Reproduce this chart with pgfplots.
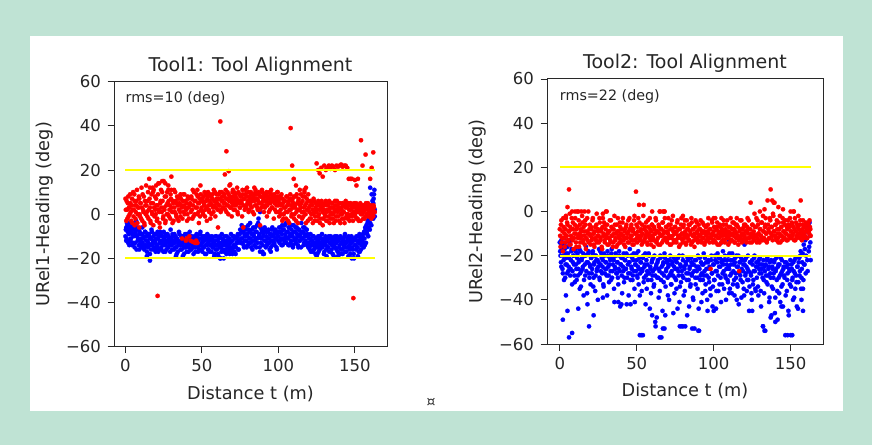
\documentclass[border=0pt]{standalone}
\usepackage{pgfplots}
\pgfplotsset{compat=1.18}
\usepackage{pgfplotstable}
\usepackage{fontspec}
\setmainfont{DejaVu Sans}
\definecolor{mint}{RGB}{191,227,212}
\definecolor{yel}{RGB}{255,255,0}
\definecolor{axgray}{RGB}{40,40,40}
\pgfplotstableread{
x r1 b1 r2 b2
0 7 -10 -8 -14
0.5 -3 -6 -16 -20
1 2 -12 -4 -25
1.5 5 -8 -12 -17
2 -1 -4 -18 -28
2.5 3 -14 -7 -22
3 9 -7 -10 -15
3.5 1 -11 -14 -30
4 4 -5 -2 -19
4.5 -4 -9 -11 -24
5 10 -13 -6 -16
5.5 2 -6 -13 -27
6 6 -15 -9 -21
6.5 -2 -8 -1 -13
7 4 -3 -15 -26
7.5 11 -10 -8 -18
8 0 -12 -12 -33
8.5 3 -7 -5 -23
9 7 -16 -17 -20
9.5 -1 -9 -10 -29
10 5 -13 -3 -17
10.5 12 -11 -14 -24
11 -3 -6 -8 -31
11.5 2 -14 0 -19
12 8 -10 -11 -26
12.5 -5 -15 -16 -22
13 4 -8 -6 -35
13.5 13 -12 -12 -18
14 1 -17 -9 -27
14.5 6 -9 -2 -21
15 -2 -13 -14 -25
15.5 16 -10 -7 -38
16 3 -18 -11 -20
16.5 -4 -11 -4 -29
17 9 -7 -17 -16
17.5 0 -14 -9 -23
18 5 -12 -13 -42
18.5 11 -16 0 -19
19 -1 -9 -10 -28
19.5 2 -13 -6 -24
20 7 -11 -15 -33
20.5 -3 -15 -8 -21
21 4 -8 -12 -26
21.5 14 -17 -3 -18
22 1 -10 -10 -30
22.5 -6 -13 -16 -23
23 6 -9 -7 -36
23.5 3 -16 -13 -20
24 10 -12 -1 -27
24.5 -2 -14 -11 -22
25 15 -8 -9 -25
25.5 2 -12 -14 -17
26 -4 -17 -5 -31
26.5 8 -10 -12 -24
27 0 -13 -8 -19
27.5 5 -9 -17 -28
28 13 -15 -3 -22
28.5 -1 -11 -10 -34
29 4 -14 -13 -20
29.5 9 -7 -6 -26
30 17 -12 -11 -23
30.5 1 -16 0 -29
31 6 -10 -15 -18
31.5 -3 -13 -9 -25
32 3 -9 -12 -32
32.5 10 -15 -4 -21
33 0 -11 -14 -27
33.5 5 -18 -7 -19
34 -2 -12 -11 -30
34.5 7 -14 -16 -24
35 2 -8 -8 -22
35.5 8 -13 -2 -41
36 -1 -16 -13 -26
36.5 4 -10 -10 -20
37 -11 -14 -6 -28
37.5 6 -19 -15 -23
38 1 -11 -9 -33
38.5 9 -15 -12 -18
39 3 -9 -5 -27
39.5 -12 -13 -14 -24
40 5 -17 -8 -21
40.5 0 -12 -11 -37
41 7 -10 -3 -25
41.5 -2 -15 -13 -19
42 4 -8 -9 -30
42.5 -12 -13 -16 -22
43 8 -16 -7 -26
43.5 2 -11 -12 -42
44 11 -14 -10 -20
44.5 -1 -18 -4 -28
45 6 -10 -14 -23
45.5 -13 -13 -8 -17
46 3 -15 -11 -31
46.5 9 -9 -6 -25
47 0 -12 -13 -21
47.5 5 -17 -9 -29
48 -4 -11 -15 -19
48.5 7 -14 -2 -35
49 13 -8 -10 -24
49.5 2 -16 9 -27
50 6 -13 -12 -22
50.5 1 -10 -7 -30
51 8 -15 -3 -18
51.5 4 -12 3 -26
52 -1 -18 -13 -38
52.5 9 -11 -9 -23
53 3 -14 -11 -56
53.5 7 -9 -6 -27
54 10 -16 -14 -21
54.5 2 -12 3 -32
55 6 -17 -8 -25
55.5 -2 -11 -12 -19
56 8 -14 -5 -29
56.5 4 -10 -10 -35
57 9 -15 -15 -24
57.5 1 -13 -7 -28
58 6 -19 -11 -20
58.5 10 -12 -3 -44
59 3 -16 -13 -26
59.5 7 -10 -9 -31
60 5 -14 -6 -22
60.5 -6 -18 -12 -27
61 9 -11 -16 -34
61.5 4 -15 -8 -20
62 7 -20 -10 -29
62.5 2 -13 -4 -25
63 10 -9 -13 -48
63.5 6 -16 -9 -23
64 3 -12 -15 -30
64.5 8 -17 -7 -26
65 5 -10 0 -36
65.5 11 -14 -11 -21
66 1 -18 -8 -57
66.5 7 -12 -14 -28
67 4 -15 -5 -24
67.5 9 -11 -10 -32
68 13 -16 0 -19
68.5 3 -13 -12 -47
69 6 -9 -7 -27
69.5 -1 -17 -13 -23
70 8 -12 -9 -30
70.5 4 -15 -3 -25
71 10 -10 -11 -40
71.5 2 -14 -15 -22
72 7 -18 -6 -28
72.5 5 -11 -12 -33
73 12 -13 -8 -24
73.5 0 -9 -2 -29
74 6 -16 -14 -21
74.5 9 -12 -10 -37
75 3 -7 -7 -26
75.5 8 -11 -13 -31
76 5 -5 -9 -23
76.5 11 -13 -4 -44
77 -6 -8 -11 -27
77.5 7 -15 -16 -20
78 2 -10 -8 -34
78.5 9 -6 -12 -25
79 4 -12 -3 -52
79.5 12 -9 -10 -29
80 6 -14 -14 -22
80.5 1 -7 -6 -38
81 8 -11 -11 -26
81.5 5 -4 -9 -52
82 10 -13 -15 -24
82.5 3 -9 -4 -31
83 7 -16 -12 -21
83.5 9 -6 -8 -28
84 0 -10 -13 -43
84.5 6 -12 -6 -25
85 11 -8 -10 -33
85.5 4 -15 -3 -23
86 7 -5 -14 -28
86.5 2 -11 -8 -39
87 9 -2 -11 -24
87.5 5 -9 -16 -53
88 -5 1 -7 -30
88.5 8 -13 -12 -22
89 3 -7 -5 -27
89.5 10 -17 -10 -35
90 6 -10 -13 -25
90.5 1 -18 -8 -54
91 8 -6 -11 -21
91.5 4 -12 -4 -29
92 9 -8 -14 -41
92.5 -1 -14 -9 -24
93 7 -11 -12 -31
93.5 5 -7 -6 -19
94 10 -13 -15 -27
94.5 2 -9 -10 -36
95 6 -15 -7 -23
95.5 9 -10 -13 -29
96 3 -6 -9 -45
96.5 7 -12 -3 -22
97 -2 -9 -12 -32
97.5 5 -14 -8 -26
98 8 -7 -26 -38
98.5 1 -11 -11 -20
99 6 -16 -5 -28
99.5 10 -8 -14 -34
100 4 -10 -9 -24
100.5 -1 -6 -13 -31
101 7 -12 -3 -22
101.5 2 -8 -11 -44
102 9 -14 -7 -27
102.5 -3 -5 -15 -19
103 5 -11 -9 -36
103.5 0 -7 -12 -25
104 6 -13 -6 -21
104.5 3 -9 -10 -30
105 -2 -4 -14 -23
105.5 8 -11 -8 -33
106 1 -8 -11 -18
106.5 5 -14 -4 -27
107 -4 -6 -13 -22
107.5 7 -10 -9 -29
108 2 -13 -6 -40
108.5 -1 -7 -12 -24
109 6 -9 -10 -31
109.5 3 -15 -15 -20
110 8 -5 -7 -26
110.5 0 -11 -11 -35
111 4 -8 -3 -22
111.5 -3 -13 -13 -28
112 9 -6 -8 -19
112.5 2 -10 -10 -33
113 6 -15 -5 -24
113.5 -1 -7 -14 -38
114 11 -12 -9 -21
114.5 3 -9 -12 -30
115 5 -4 -6 -25
115.5 -2 -11 -11 -34
116 8 -8 -15 -20
116.5 1 -14 -27 -28
117 11 -6 -8 -23
117.5 4 -10 -12 -31
118 -4 -13 -4 -39
118.5 7 -7 -10 -22
119 2 -9 -13 -27
119.5 9 -15 -7 -35
120 3 -11 -11 -24
120.5 -2 -16 -6 -29
121 6 -9 -13 -21
121.5 0 -14 -9 -36
122 4 -12 -3 -26
122.5 -4 -17 -12 -31
123 7 -10 -8 -45
123.5 1 -13 -14 -23
124 -1 -15 4 -28
124.5 5 -11 -10 -37
125 2 -14 -6 -22
125.5 -3 -18 -12 -33
126 6 -10 -9 -27
126.5 0 -13 -1 -20
127 4 -16 -11 -35
127.5 -2 -11 -7 -25
128 3 -15 -14 -30
128.5 5 -9 -4 -23
129 -5 -14 -10 -38
129.5 2 -12 -13 -26
130 4 -17 -8 -21
130.5 -1 -11 -11 -36
131 6 -14 -5 -28
131.5 1 -19 -12 -24
132 -3 -12 -2 -52
132.5 5 -15 -9 -31
133 2 -10 -13 -25
133.5 -4 -13 -6 -54
134 3 -17 -10 -29
134.5 0 -11 -14 -22
135 5 -14 5 -33
135.5 -2 -18 -8 -26
136 3 -12 -12 -41
136.5 1 -15 -3 -23
137 6 -10 10 -30
137.5 -3 -13 -7 -47
138 2 -16 -11 -25
138.5 4 -12 -1 -35
139 -1 -19 -9 -28
139.5 5 -11 4 -22
140 2 -14 -6 -39
140.5 -4 -10 -12 -26
141 3 -16 -4 -31
141.5 0 -13 -10 -49
142 5 -18 -14 -24
142.5 1 -11 -8 -37
143 -2 -15 -2 -29
143.5 4 -9 -11 -21
144 6 -13 -7 -34
144.5 -1 -17 -13 -27
145 3 -12 -5 -43
145.5 0 -15 -9 -25
146 5 -10 -12 -30
146.5 -3 -14 -4 -56
147 2 -18 -10 -23
147.5 4 -11 -7 -36
148 -1 -13 -13 -28
148.5 3 -16 -6 -45
149 1 -12 -11 -26
149.5 5 -20 -3 -33
150 0 -11 -9 -56
150.5 3 -14 -12 -24
151 -2 -10 -6 -31
151.5 4 -15 -10 -40
152 1 -12 0 -27
152.5 -3 -17 -8 -22
153 2 -9 -13 -35
153.5 5 -13 -5 -29
154 0 -16 -11 -43
154.5 3 -11 -7 -25
155 1 -10 -2 -32
155.5 -2 -13 -10 -21
156 4 -8 -6 -27
156.5 2 -14 5 -18
157 -1 -7 -11 -30
157.5 3 -5 -8 -23
158 0 -9 -4 -35
158.5 5 -3 -12 -15
159 2 -6 -7 -24
159.5 -1 -1 -9 -13
160 1 -4 -6 -20
160.5 4 3 -12 -9
161 0 0 -8 -27
161.5 2 6 -5 -6
162 -1 -2 -10 -16
162.5 3 9 -7 -11
163 1 2 -11 -22
}\dataA

\pgfplotstableread{
x r1 b1 r2 b2
0.25 2 -7 -11 -18
0.75 6 -11 -6 -23
1.25 -2 -5 -14 -15
1.75 8 -13 -9 -26
2.25 3 -9 -3 -20
2.75 0 -6 -12 -31
3.25 5 -12 -16 -17
3.75 -3 -8 -8 -24
4.25 7 -14 -11 -21
4.75 2 -4 -5 -28
5.25 -1 -10 -13 -19
5.75 9 -7 -9 -25
6.25 4 -13 -15 -14
6.75 1 -9 -7 -29
7.25 6 -16 -11 -22
7.75 -4 -6 -3 -17
8.25 3 -11 -13 -27
8.75 8 -14 -8 -20
9.25 0 -8 -12 -24
9.75 5 -12 -6 -32
10.25 -2 -15 -10 -18
10.75 3 -9 -16 -26
11.25 9 -13 -7 -21
11.75 1 -11 -12 -29
12.25 -4 -16 -4 -23
12.75 6 -8 -10 -17
13.25 0 -14 -14 -28
13.75 4 -10 -8 -34
14.25 -1 -12 -11 -22
14.75 10 -15 -5 -26
15.25 2 -9 -13 -19
15.75 7 -14 -9 -31
16.25 -3 -11 -15 -24
16.75 5 -16 -6 -20
17.25 1 -8 -12 -27
17.75 12 -13 -3 -37
18.25 -5 -10 -10 -23
18.75 3 -15 -14 -18
19.25 8 -12 -8 -30
19.75 0 -17 -11 -25
20.25 4 -9 -7 -21
20.75 -2 -14 -13 -28
21.25 9 -11 -4 -19
21.75 2 -16 -10 -34
22.25 -4 -12 -15 -24
22.75 5 -8 -9 -20
23.25 11 -15 -12 -29
23.75 1 -13 -6 -22
24.25 6 -10 -14 -26
24.75 -1 -17 -8 -40
25.25 3 -11 -11 -23
25.75 8 -14 -3 -30
26.25 -3 -9 -13 -18
26.75 4 -16 -9 -27
27.25 10 -12 -16 -21
27.75 0 -15 -7 -25
28.25 6 -10 -11 -33
28.75 2 -13 -5 -19
29.25 -2 -17 -14 -28
29.75 7 -11 -8 -23
30.25 3 -14 -12 -26
30.75 -4 -9 -6 -38
31.25 5 -12 -10 -20
31.75 11 -16 -15 -29
32.25 1 -13 -9 -24
32.75 6 -10 -13 -22
33.25 -1 -15 -4 -31
33.75 8 -11 -11 -17
34.25 4 -17 -8 -27
34.75 -3 -13 -14 -21
35.25 5 -9 -10 -35
35.75 1 -14 -6 -25
36.25 7 -12 -12 -19
36.75 3 -16 -16 -28
37.25 -2 -10 -9 -23
37.75 9 -13 -3 -30
38.25 4 -18 -11 -26
38.75 0 -11 -14 -20
39.25 6 -15 -7 -43
39.75 2 -12 -10 -24
40.25 -3 -9 -13 -29
40.75 8 -14 -5 -21
41.25 3 -17 -11 -27
41.75 -10 -11 -15 -32
42.25 5 -13 -8 -22
42.75 1 -16 -12 -26
43.25 7 -10 -6 -19
43.75 -2 -14 -10 -30
44.25 4 -12 -14 -24
44.75 10 -15 -9 -38
45.25 0 -11 -3 -23
45.75 6 -17 -12 -28
46.25 -12 -13 -7 -20
46.75 3 -10 -11 -26
47.25 8 -15 -15 -31
47.75 1 -12 -8 -22
48.25 5 -16 -4 -27
48.75 -1 -9 -13 -41
49.25 9 -14 -10 -24
49.75 3 -11 -6 -19
50.25 7 -17 -14 -29
50.75 0 -12 -9 -25
51.25 5 -15 -11 -33
51.75 10 -10 -5 -21
52.25 2 -14 -12 -28
52.75 6 -18 -8 -23
53.25 -3 -11 -15 -36
53.75 8 -13 -10 -26
54.25 4 -16 -2 -20
54.75 1 -10 -13 -30
55.25 9 -14 -7 -24
55.75 5 -12 -11 -42
56.25 0 -17 -9 -22
56.75 7 -11 -14 -27
57.25 3 -15 -4 -31
57.75 11 -13 -10 -19
58.25 4 -18 -12 -28
58.75 -1 -10 -8 -25
59.25 6 -14 -15 -37
59.75 9 -16 -6 -23
60.25 2 -12 -11 -29
60.75 7 -19 -13 -21
61.25 4 -13 -7 -33
61.75 10 -10 -10 -26
62.25 1 -15 -3 -52
62.75 6 -17 -14 -24
63.25 8 -11 -9 -30
63.75 3 -14 -12 -22
64.25 5 -20 -6 -39
64.75 9 -12 -10 -27
65.25 2 -16 -15 -20
65.75 7 -13 -8 -31
66.25 4 -10 -11 -25
66.75 10 -17 -5 -45
67.25 0 -14 -13 -23
67.75 6 -11 -9 -29
68.25 8 -18 -3 -21
68.75 3 -15 -12 -34
69.25 7 -12 -7 -26
69.75 5 -16 -14 -22
70.25 11 -10 -10 -38
70.75 2 -14 -6 -24
71.25 6 -17 -12 -29
71.75 9 -11 -8 -20
72.25 4 -15 -15 -33
72.75 7 -13 -4 -27
73.25 1 -10 -11 -23
73.75 10 -16 -9 -46
74.25 5 -12 -13 -25
74.75 3 -9 -7 -30
75.25 8 -13 -10 -22
75.75 6 -8 -14 -35
76.25 -1 -11 -5 -26
76.75 9 -6 -12 -21
77.25 4 -14 -8 -29
77.75 7 -9 -11 -41
78.25 11 -12 -15 -24
78.75 3 -7 -6 -32
79.25 8 -15 -10 -27
79.75 5 -10 -13 -20
80.25 10 -5 -7 -30
80.75 2 -13 -12 -25
81.25 7 -8 -4 -36
81.75 4 -11 -10 -23
82.25 9 -15 -14 -28
82.75 6 -7 -8 -47
83.25 1 -12 -11 -22
83.75 8 -9 -6 -31
84.25 12 -14 -13 -26
84.75 4 -6 -9 -34
85.25 7 -11 -15 -21
85.75 9 -8 -5 -29
86.25 3 -13 -11 -24
86.75 6 -4 -8 -40
87.25 10 -10 -13 -27
87.75 2 -15 -10 -22
88.25 8 -6 -4 -33
88.75 5 -11 -12 -25
89.25 11 -8 -9 -30
89.75 4 -14 -14 -20
90.25 7 -9 -6 -44
90.75 9 -12 -11 -26
91.25 3 -7 -8 -31
91.75 6 -15 -13 -23
92.25 10 -10 -10 -28
92.75 4 -13 -5 -37
93.25 8 -8 -12 -24
93.75 1 -11 -9 -29
94.25 7 -16 -14 -21
94.75 5 -9 -7 -33
95.25 11 -12 -11 -26
95.75 3 -7 -13 -40
96.25 8 -14 -6 -23
96.75 6 -10 -10 -30
97.25 9 -13 -14 -25
97.75 2 -8 -8 -35
98.25 7 -11 -12 -22
98.75 4 -15 -4 -28
99.25 10 -9 -10 -43
99.75 6 -12 -13 -24
100.25 1 -8 -7 -31
100.75 5 -13 -11 -20
101.25 8 -6 -14 -27
101.75 0 -11 -8 -36
102.25 4 -9 -5 -23
102.75 7 -14 -12 -29
103.25 -2 -7 -10 -21
103.75 3 -12 -15 -33
104.25 6 -5 -7 -25
104.75 1 -10 -11 -41
105.25 8 -13 -9 -22
105.75 4 -8 -13 -28
106.25 -3 -11 -6 -24
106.75 6 -6 -10 -35
107.25 2 -14 -14 -20
107.75 9 -9 -8 -30
108.25 4 -12 -11 -26
108.75 0 -5 -4 -22
109.25 7 -10 -12 -32
109.75 5 -14 -9 -25
110.25 -2 -8 -14 -19
110.75 3 -12 -7 -29
111.25 8 -6 -10 -24
111.75 1 -11 -13 -37
112.25 5 -9 -5 -22
112.75 -4 -14 -11 -27
113.25 7 -7 -8 -31
113.75 2 -12 -14 -23
114.25 4 -10 -6 -28
114.75 9 -15 -10 -20
115.25 1 -8 -12 -33
115.75 6 -11 -7 -25
116.25 -1 -6 -13 -42
116.75 3 -13 -9 -23
117.25 8 -9 -4 -29
117.75 0 -12 -11 -21
118.25 5 -7 -14 -26
118.75 2 -14 -8 -32
119.25 -3 -10 -10 -24
119.75 6 -13 -6 -38
120.25 1 -15 -12 -22
120.75 4 -11 -9 -28
121.25 -2 -17 -14 -25
121.75 5 -12 -7 -31
122.25 2 -14 -10 -20
122.75 0 -10 -4 -27
123.25 6 -16 -12 -34
123.75 -3 -13 -8 -23
124.25 3 -18 -11 -29
124.75 1 -11 -14 -40
125.25 4 -15 -6 -24
125.75 -1 -12 -10 -31
126.25 5 -17 -13 -21
126.75 2 -10 -7 -27
127.25 -4 -14 -11 -36
127.75 3 -13 -3 -23
128.25 6 -11 -12 -25
128.75 1 -15 -6 -34
129.25 -2 -12 -10 -22
129.75 4 -18 -14 -28
130.25 0 -13 -8 -24
130.75 5 -10 -11 -43
131.25 -3 -16 -5 -26
131.75 2 -12 -13 -30
132.25 4 -15 -9 -22
132.75 -1 -11 -12 -37
133.25 6 -17 -7 -27
133.75 1 -13 -3 -24
134.25 -2 -10 -10 -32
134.75 3 -16 -13 -21
135.25 5 -12 -6 -29
135.75 0 -14 -9 -25
136.25 -4 -19 -12 -39
136.75 2 -11 -4 -28
137.25 4 -15 -10 -22
137.75 -1 -13 -7 -34
138.25 6 -10 -13 -26
138.75 1 -17 -2 -30
139.25 3 -12 -9 -23
139.75 -3 -15 -11 -46
140.25 5 -11 -6 -27
140.75 0 -18 -13 -21
141.25 2 -13 -8 -36
141.75 -2 -16 -12 -25
142.25 4 -12 -5 -30
142.75 1 -14 -10 -24
143.25 -4 -10 -14 -41
143.75 3 -17 -7 -28
144.25 5 -13 -11 -22
144.75 0 -15 -3 -33
145.25 -2 -11 -9 -26
145.75 4 -19 -12 -29
146.25 2 -12 -6 -23
146.75 -1 -16 -10 -38
147.25 5 -13 -13 -25
147.75 0 -10 -8 -31
148.25 3 -15 -4 -24
148.75 -3 -12 -11 -47
149.25 4 -18 -7 -27
149.75 1 -11 -12 -22
150.25 -1 -14 -9 -34
150.75 5 -16 -5 -26
151.25 2 -12 -11 -30
151.75 -2 -15 -7 -23
152.25 3 -10 -13 -39
152.75 1 -13 -3 -28
153.25 4 -17 -9 -21
153.75 -3 -11 -12 -32
154.25 2 -14 -6 -25
154.75 0 -12 -10 -44
155.25 4 -9 -8 -23
155.75 1 -15 -12 -29
156.25 -2 -11 -4 -20
156.75 3 -6 -9 -35
157.25 5 -13 -13 -26
157.75 0 -8 -6 -19
158.25 2 -4 -10 -31
158.75 -1 -10 -7 -24
159.25 4 -2 -11 -17
159.75 1 -7 -5 -28
160.25 3 1 -9 -12
160.75 -2 -5 -12 -22
161.25 2 4 -6 -8
161.75 0 -1 -9 -18
162.25 4 7 -4 -5
162.75 1 11 -8 -14
}\dataB

\pgfplotsset{
  panel/.style={
    scale only axis, height=265pt,
    clip marker paths=true,
    xmin=-7.5, xmax=171, ymin=-60, ymax=60,
    xtick={0,50,100,150}, xticklabels={0,50,100,150},
    ytick={-60,-40,-20,0,20,40,60},
    yticklabels={−60,−40,−20,0,20,40,60},
    xtick pos=bottom, ytick pos=left,
    tick align=outside, major tick length=6.5pt,
    tick style={axgray, line width=0.9pt},
    axis line style={axgray, line width=1pt},
    ticklabel style={font=\fontsize{16.5}{19}\selectfont, text=black!85},
    xticklabel style={yshift=-3pt},
    yticklabel style={xshift=-3pt},
    every axis title/.style={at={(axis description cs:0.5,1)}, anchor=base, yshift=10.3pt,
      font=\fontsize{19}{22}\selectfont, text=black!85},
    every axis x label/.style={at={(axis description cs:0.5,-0.177)}, anchor=center,
      font=\fontsize{17.7}{20}\selectfont, text=black!85},
    every axis y label/.style={at={(axis description cs:-0.253,0.5)}, anchor=center, rotate=90,
      font=\fontsize{17.7}{20}\selectfont, text=black!85},
    rdots/.style={color=red, only marks, mark=*, mark size=2.2pt, line width=0.2pt},
    bdots/.style={color=blue, only marks, mark=*, mark size=2.2pt, line width=0.2pt},
    yline/.style={color=yel, line width=2pt, no marks, forget plot},
  }
}

\begin{document}
\begin{tikzpicture}[x=1pt,y=1pt]
\fill[mint] (0,0) rectangle (872,445);
\fill[white] (30,34) rectangle (843,409);
\node[font=\fontsize{14}{15}\selectfont, text=black!80] at (431,42.3) {¤};

\begin{axis}[panel, width=273pt, at={(114pt,98.3pt)}, anchor=south west,
  title={Tool1: Tool Alignment}, xlabel={Distance t (m)}, ylabel={URel1-Heading (deg)}]
\addplot[bdots] table[x=x, y=b1] {\dataA};
\addplot[bdots] table[x=x, y=b1] {\dataB};
\addplot[bdots] coordinates {(16,-21)(14,-19)(62,-20)(90,-18)(88,-17)(148,-20)(152,-19)
  (160,12)(161,9)(159,4)(162,5)(163,-1)(1,-4)(0.5,-12)(20,-16)(33,-19)(70,-18)(95,-17)(125,-19)(140,-18)};
\addplot[rdots] table[x=x, y=r1] {\dataA};
\addplot[rdots] table[x=x, y=r1] {\dataB};
\addplot[rdots] coordinates {(62,42)(66,28.5)(65,18)(67.5,19.5)(68.5,13.5)(108,39)(109,22)(110,16)(111.5,13)
  (125,23)(126,20)(127,18.5)(128,21)(129,17)(130,22)(131,20)(132,21)(133,22)(134,20.5)(135,22)(136,21.5)
  (137,20)(138,22)(139,21.5)(140,22)(141,22.5)(142,21.5)(143,22)(144,22)(145,21)(146,16)(147,16)(148,16)
  (150,15.5)(151,13)(152,16)(155,22)(154,33.5)(157,27)(162,28)(160,16)(161,21)(149,-38)(21,-37)
  (20,13)(22,14)(24,15)(26,14)(28,11)(18,10)(16,12)(30,11)(36,9)(47,11)(70,10)(72,8)(85,10)(95,9)
  (100,8)(117,10)(118,12)(40,-11)(44,-12.5)(47,-13)(6,-5)(9,-6)};
\addplot[yline] coordinates {(0,20)(163,20)};
\addplot[yline] coordinates {(0,-20)(163,-20)};
\node[anchor=base west, inner sep=0pt, font=\fontsize{14.3}{16}\selectfont, text=black!85]
  at (axis cs:0,50.5) {rms=10 (deg)};
\end{axis}

\begin{axis}[panel, width=276pt, at={(547pt,101pt)}, anchor=south west, xmin=-8.3,
  title={Tool2: Tool Alignment}, xlabel={Distance t (m)}, ylabel={URel2-Heading (deg)}]
\addplot[bdots] table[x=x, y=b2] {\dataA};
\addplot[bdots] table[x=x, y=b2] {\dataB};
\addplot[bdots] coordinates {(2,-49)(4,-38)(5,-45)(6,-57)(8,-55)(19,-52)(22,-47)(38,-41)(40,-42)
  (52,-56)(54,-56)(60,-47)(62,-50)(65,-57)(67,-53)(68,-53)(78,-52)(80,-52)(86,-53)(90,-54)(125,-45)
  (132,-52)(133,-54)(137,-48)(140,-50)(148,-56)(151,-56)(100,-45)(110,-37)(115,-40)(144,-43)(157,-40)
  (158,-45)(46,-42)(28,-39)(12,-44)(1,-13)(3,-12)(105,-14)(110,-13)(120,-15)};
\addplot[rdots] table[x=x, y=r2] {\dataA};
\addplot[rdots] table[x=x, y=r2] {\dataB};
\addplot[rdots] coordinates {(6,10)(5,2)(4,-3)(8,0)(10,0)(12,0)(14,0)(16,0)(30,0)(28,-1)(60,0)
  (65,0)(67,0)(68,0)(80,-2)(100,-3)(105,-3)(115,-3)(130,0)(133,1)(142,2)(145,1)(150,0)(152,0)(138,5)(139,4)};
\addplot[yline] coordinates {(0,20)(163,20)};
\addplot[yline] coordinates {(0,-20)(163,-20)};
\node[anchor=base west, inner sep=0pt, font=\fontsize{14.3}{16}\selectfont, text=black!85]
  at (axis cs:0,50.3) {rms=22 (deg)};
\end{axis}
\end{tikzpicture}
\end{document}
